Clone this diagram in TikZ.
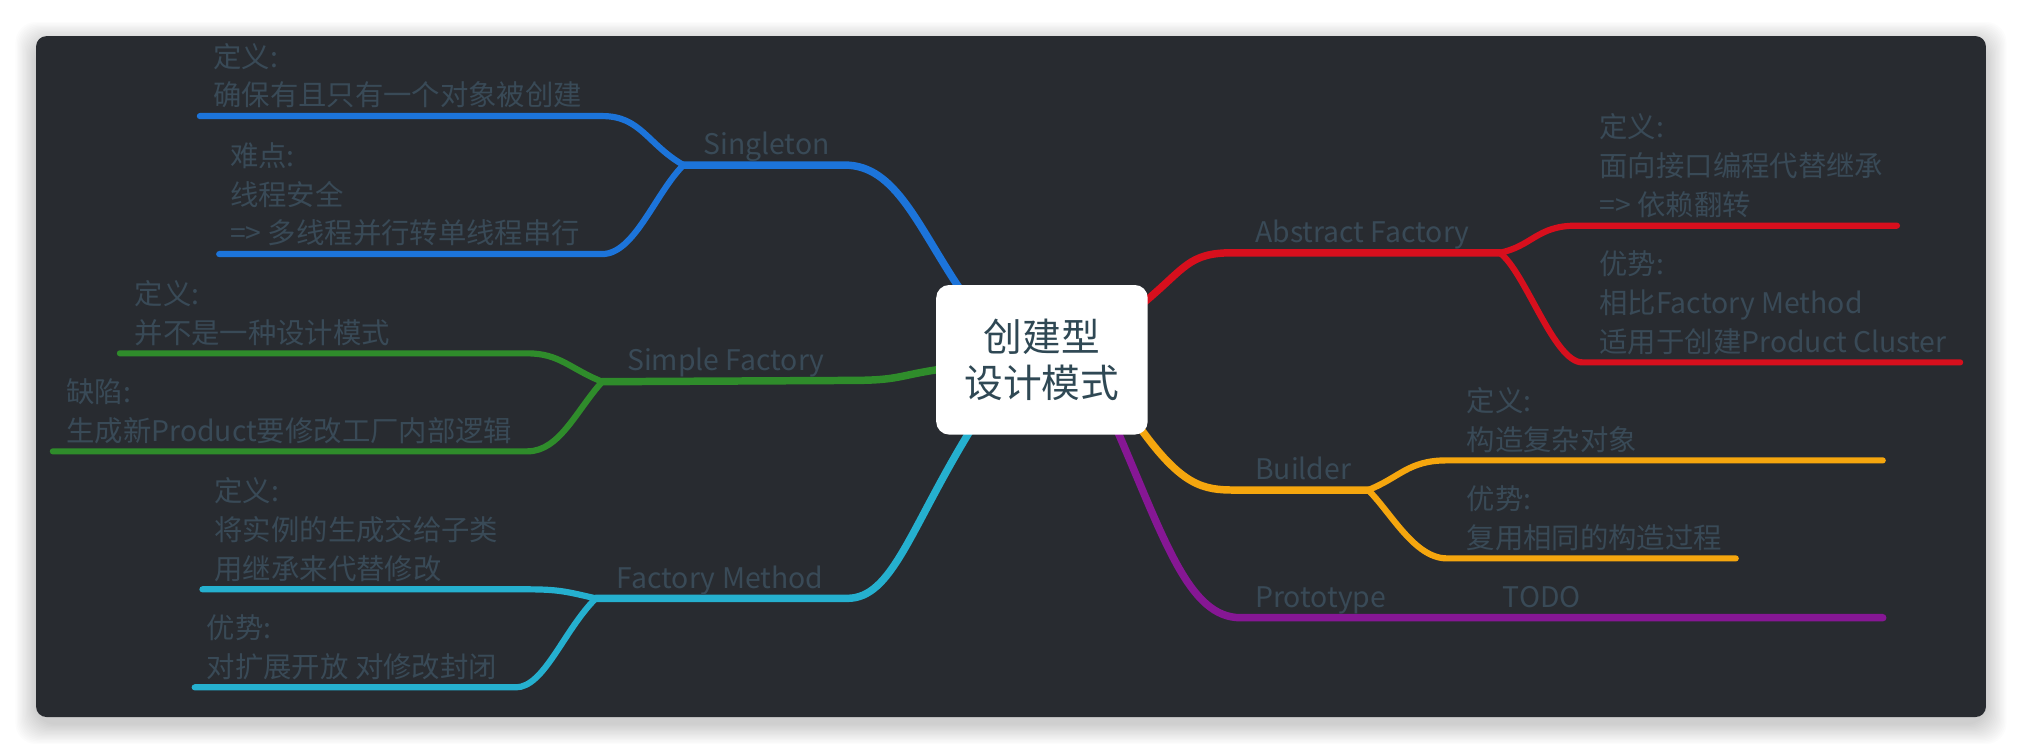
\documentclass[tikz,border=0pt]{standalone}
\usepackage{fontspec}
\setmainfont{Noto Sans CJK SC}
\usetikzlibrary{calc}
\pgfdeclarelayer{paper}
\pgfdeclarelayer{lines}
\pgfsetlayers{paper,lines,main}
\definecolor{board}{HTML}{282B30}
\definecolor{ink}{HTML}{394A57}
\definecolor{rootink}{HTML}{2F4854}
\definecolor{sgblue}{HTML}{1C74DA}
\definecolor{sfgreen}{HTML}{2F8C2B}
\definecolor{fmcyan}{HTML}{25B0CF}
\definecolor{afred}{HTML}{D70F1D}
\definecolor{bdorange}{HTML}{F5A60E}
\definecolor{ptpurple}{HTML}{861794}

\begin{document}
\begin{tikzpicture}[x=0.5pt,y=-0.5pt,
  trunk/.style={line width=2.9pt,line cap=round},
  twig/.style={line width=2.4pt,line cap=round},
  topic/.style={inner sep=0pt,anchor=base west,text=ink,font=\fontsize{11}{15}\selectfont},
  memo/.style={topic,align=left}]
\useasboundingbox (0,0) rectangle (1568,585);
\begin{pgfonlayer}{paper}
\fill[white] (0,0) rectangle (1568,585);
%\draw[help lines] (0,0) grid[step=100] (1568,585);
\foreach \d in {1,...,16}
  \fill[black,opacity=.012,rounded corners=8pt] (28-\d,28-\d+5) rectangle (1540+\d,556+\d+5);
\fill[board,rounded corners=4pt] (28,28) rectangle (1540,556);
\end{pgfonlayer}

\node[fill=white,rounded corners=5pt,minimum width=82pt,minimum height=58pt,inner sep=0pt,
  align=center,text=rootink,font=\fontsize{15}{18}\selectfont] (root) at (808,279) {创建型\\设计模式};

% forks and knees
\coordinate (sg) at (530,128);  \coordinate (sgk) at (655,128);
\coordinate (sf) at (467,296);  \coordinate (sfk) at (659,295);
\coordinate (fm) at (462,464);  \coordinate (fmk) at (657,464);
\coordinate (af) at (1163,196); \coordinate (afk) at (956,196);
\coordinate (bd) at (1061,380); \coordinate (bdk) at (958,380);
\coordinate (ptk) at (962,479); \coordinate (pt1) at (1460,479);
% leaf ends
\coordinate (sg1k) at (467,90);   \coordinate (sg1) at (155,90);
\coordinate (sg2k) at (467,197);  \coordinate (sg2) at (170,197);
\coordinate (sf1k) at (409,274);  \coordinate (sf1) at (93,274);
\coordinate (sf2k) at (409,350);  \coordinate (sf2) at (41,350);
\coordinate (fm1k) at (409,457);  \coordinate (fm1) at (157,457);
\coordinate (fm2k) at (400,533);  \coordinate (fm2) at (151,533);
\coordinate (af1k) at (1222,175); \coordinate (af1) at (1471,175);
\coordinate (af2k) at (1227,281); \coordinate (af2) at (1520,281);
\coordinate (bd1k) at (1122,357); \coordinate (bd1) at (1460,357);
\coordinate (bd2k) at (1122,433); \coordinate (bd2) at (1346,433);

\begin{pgfonlayer}{lines}
\draw[trunk,sgblue] ($(root.north west)!0.1!(root.north east)+(4,6)$) .. controls +(-34,-50) and +(40,0) .. (sgk) -- (sg);
\draw[trunk,sfgreen] ($(root.west)+(6,7)$) .. controls +(-36,5) and +(40,0) .. (sfk) -- (sf);
\draw[trunk,fmcyan] ($(root.south west)!0.15!(root.south east)+(3,-5)$) .. controls +(-48,78) and +(35,0) .. (fmk) -- (fm);
\draw[trunk,afred] ($(root.east)+(-5,-43)$) .. controls +(34,-28) and +(-35,0) .. (afk) -- (af);
\draw[trunk,bdorange] ($(root.south east)+(-8,-8)$) .. controls +(34,48) and +(-25,0) .. (bdk) -- (bd);
\draw[trunk,ptpurple] ($(root.south west)!0.86!(root.south east)+(-2,-6)$) .. controls +(38,88) and +(-40,0) .. (ptk) -- (pt1);
\foreach \f/\k/\e/\col/\ca/\cb in {
  sg/sg1k/sg1/sgblue/{-28,-16}/{30,0}, sg/sg2k/sg2/sgblue/{-22,22}/{25,0},
  sf/sf1k/sf1/sfgreen/{-25,-10}/{25,0}, sf/sf2k/sf2/sfgreen/{-20,22}/{25,0},
  fm/fm1k/fm1/fmcyan/{-22,-5}/{25,0}, fm/fm2k/fm2/fmcyan/{-25,25}/{22,0},
  af/af1k/af1/afred/{25,-5}/{-30,0}, af/af2k/af2/afred/{20,15}/{-22,0},
  bd/bd1k/bd1/bdorange/{25,-10}/{-30,0}, bd/bd2k/bd2/bdorange/{18,18}/{-25,0}}
  \draw[twig,\col] (\f) .. controls +(\ca) and +(\cb) .. (\k) -- (\e);
\end{pgfonlayer}

% branch names
\node[topic] (sgl) at (545,120) {Singleton};
\node[topic] (sfl) at (486,287) {Simple Factory};
\node[topic] (fml) at (478,456) {Factory Method};
\node[topic] (afl) at (973,188) {Abstract Factory};
\node[topic] (bdl) at (973,372) {Builder};
\node[topic] (ptl) at (973,471) {Prototype};
\node[topic] (todo) at (1165,471) {TODO};

% leaf notes
\node[memo] (sgdef) at (165,82) {定义:\\确保有且只有一个对象被创建};
\node[memo] (sghard) at (178,189) {难点:\\线程安全\\=> 多线程并行转单线程串行};
\node[memo] (sfdef) at (104,266) {定义:\\并不是一种设计模式};
\node[memo] (sfbad) at (51,342) {缺陷:\\生成新Product要修改工厂内部逻辑};
\node[memo] (fmdef) at (166,449) {定义:\\将实例的生成交给子类\\用继承来代替修改};
\node[memo] (fmgood) at (160,525) {优势:\\对扩展开放 对修改封闭};
\node[memo] (afdef) at (1240,167) {定义:\\面向接口编程代替继承\\=> 依赖翻转};
\node[memo] (afgood) at (1240,273) {优势:\\相比Factory Method\\适用于创建Product Cluster};
\node[memo] (bddef) at (1137,349) {定义:\\构造复杂对象};
\node[memo] (bdgood) at (1137,425) {优势:\\复用相同的构造过程};
\end{tikzpicture}
\end{document}
